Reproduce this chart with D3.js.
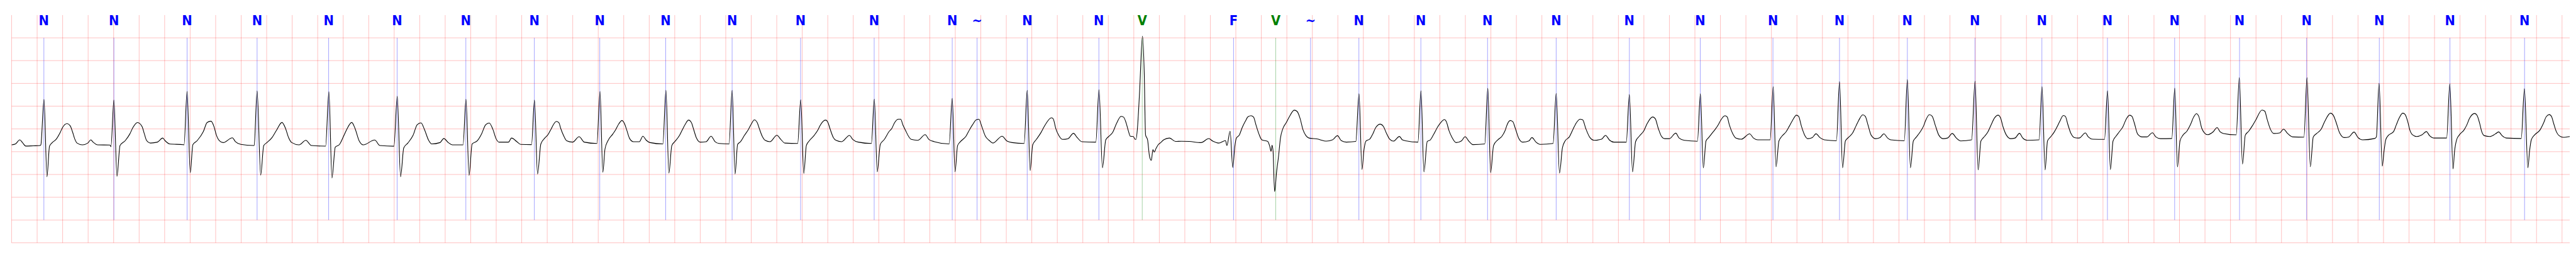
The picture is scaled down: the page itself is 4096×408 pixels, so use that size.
<!DOCTYPE html>
<html>
<head>
<meta charset="utf-8">
<script src="https://cdn.jsdelivr.net/npm/d3@7"></script>
<style>
  html, body { margin: 0; padding: 0; background: #ffffff; overflow: hidden; }
  svg { display: block; }
</style>
</head>
<body>
<script>
// ---------------- DATA ----------------
// time axis in seconds, amplitude in mV (0.2 s / 0.5 mV per grid box)
const timeDomain = [0, 20.06];
const ampDomain = [-2.5, 2.5];
const gridTimes = d3.range(0, 20.0001, 0.2);
const gridAmps = [2.0, 1.5, 1.0, 0.5, 0.0, -0.5, -1.0, -1.5, -2.0, -2.5];

// beat annotations
const annTimes = [0.253, 0.802, 1.376, 1.925, 2.486, 3.023, 3.562, 4.099, 4.612, 5.129,
  5.650, 6.187, 6.764, 7.376, 7.571, 7.964, 8.526, 8.866, 9.582, 9.913,
  10.186, 10.565, 11.051, 11.574, 12.112, 12.686, 13.242, 13.812, 14.334, 14.866,
  15.396, 15.921, 16.435, 16.962, 17.471, 17.997, 18.567, 19.121, 19.706];
const annSymbols = ["N","N","N","N","N","N","N","N","N","N",
  "N","N","N","N","~","N","N","V","F","V",
  "~","N","N","N","N","N","N","N","N","N",
  "N","N","N","N","N","N","N","N","N"];

// ECG trace: [time s, amplitude mV] points
const ecgTrace = [
  [0.000,-0.35],[0.030,-0.33],[0.064,-0.24],[0.085,-0.30],[0.110,-0.376],[0.170,-0.37],[0.222,-0.365],
  [0.229,-0.35],[0.254,0.647],[0.277,-1.05],[0.297,-0.38],[0.315,-0.31],[0.351,-0.22],[0.381,-0.076],[0.399,0.03],[0.435,0.116],[0.459,0.07],[0.477,-0.06],[0.495,-0.22],[0.513,-0.31],[0.555,-0.35],[0.597,-0.31],[0.621,-0.24],[0.639,-0.29],[0.675,-0.35],[0.771,-0.354],
  [0.779,-0.39],[0.802,0.636],[0.826,-1.04],[0.850,-0.365],[0.891,-0.257],[0.927,-0.11],[0.951,0.03],[0.987,0.141],[1.023,0.05],[1.041,-0.11],[1.059,-0.257],[1.089,-0.31],[1.143,-0.29],[1.185,-0.2],[1.203,-0.257],[1.239,-0.33],[1.347,-0.347],
  [1.352,-0.35],[1.376,0.824],[1.401,-0.96],[1.421,-0.347],[1.455,-0.257],[1.503,-0.06],[1.533,0.14],[1.563,0.17],[1.587,0.05],[1.605,-0.13],[1.629,-0.257],[1.659,-0.30],[1.731,-0.195],[1.755,-0.28],[1.798,-0.34],[1.896,-0.365],
  [1.902,-0.36],[1.925,0.835],[1.953,-1.014],[1.977,-0.365],[2.002,-0.30],[2.042,-0.19],[2.075,-0.04],[2.120,0.143],[2.148,0.01],[2.172,-0.19],[2.197,-0.30],[2.254,-0.35],[2.307,-0.25],[2.351,-0.365],[2.462,-0.377],
  [2.488,0.818],[2.512,-1.077],[2.538,-0.40],[2.571,-0.34],[2.603,-0.16],[2.628,-0.01],[2.667,0.143],[2.693,0.01],[2.725,-0.26],[2.758,-0.35],[2.847,-0.244],[2.888,-0.365],[2.998,-0.38],
  [3.024,0.717],[3.050,-1.05],[3.075,-0.415],[3.107,-0.31],[3.148,-0.14],[3.180,0.09],[3.210,0.133],[3.237,-0.01],[3.270,-0.25],[3.294,-0.33],[3.359,-0.30],[3.389,-0.21],[3.424,-0.30],[3.457,-0.35],[3.540,-0.35],
  [3.563,0.652],[3.587,-1.02],[3.611,-0.33],[3.652,-0.26],[3.685,-0.11],[3.717,0.09],[3.745,0.131],[3.774,-0.01],[3.798,-0.21],[3.823,-0.29],[3.896,-0.29],[3.920,-0.20],[3.961,-0.277],[3.993,-0.34],[4.077,-0.345],
  [4.100,0.634],[4.124,-0.99],[4.150,-0.33],[4.178,-0.21],[4.206,-0.126],[4.229,-0.01],[4.252,0.11],[4.272,0.164],[4.291,0.138],[4.306,0.01],[4.329,-0.15],[4.353,-0.26],[4.399,-0.29],[4.450,-0.17],[4.491,-0.29],[4.590,-0.32],
  [4.614,0.825],[4.636,-0.95],[4.653,-0.44],[4.676,-0.26],[4.715,-0.11],[4.738,-0.01],[4.761,0.11],[4.786,0.184],[4.807,0.11],[4.822,-0.01],[4.846,-0.21],[4.876,-0.28],[4.923,-0.28],[4.950,-0.16],[4.977,-0.25],[5.007,-0.30],[5.107,-0.33],
  [5.131,0.85],[5.154,-0.97],[5.177,-0.365],[5.200,-0.28],[5.238,-0.14],[5.261,-0.01],[5.284,0.11],[5.308,0.194],[5.331,0.138],[5.346,0.01],[5.369,-0.19],[5.400,-0.29],[5.446,-0.28],[5.485,-0.16],[5.516,-0.28],[5.547,-0.32],[5.626,-0.33],
  [5.650,0.85],[5.673,-0.99],[5.693,-0.34],[5.716,-0.28],[5.747,-0.14],[5.778,-0.01],[5.801,0.11],[5.824,0.2],[5.847,0.138],[5.863,0.01],[5.886,-0.16],[5.909,-0.25],[5.947,-0.28],[6.001,-0.14],[6.032,-0.23],[6.063,-0.31],[6.164,-0.32],
  [6.188,0.64],[6.212,-0.976],[6.232,-0.365],[6.255,-0.26],[6.294,-0.14],[6.325,-0.01],[6.340,0.075],[6.383,0.194],[6.402,0.138],[6.417,0.01],[6.444,-0.19],[6.465,-0.25],[6.509,-0.28],[6.570,-0.143],[6.596,-0.23],[6.640,-0.29],[6.742,-0.32],
  [6.765,0.654],[6.788,-0.94],[6.812,-0.34],[6.844,-0.23],[6.880,-0.06],[6.902,0.01],[6.924,0.138],[6.953,0.214],[6.972,0.214],[6.989,0.09],[7.011,-0.04],[7.033,-0.16],[7.055,-0.23],[7.105,-0.25],[7.164,-0.126],[7.193,-0.23],[7.236,-0.28],[7.352,-0.33],
  [7.376,0.672],[7.398,-0.94],[7.418,-0.365],[7.440,-0.28],[7.484,-0.16],[7.513,-0.01],[7.535,0.09],[7.564,0.2],[7.585,0.214],[7.607,0.06],[7.636,-0.16],[7.665,-0.25],[7.695,-0.31],[7.767,-0.16],[7.804,-0.264],[7.847,-0.30],[7.940,-0.32],
  [7.964,0.848],[7.987,-0.913],[8.007,-0.35],[8.036,-0.23],[8.073,-0.075],[8.095,0.04],[8.116,0.138],[8.153,0.244],[8.167,0.226],[8.189,0.0],[8.211,-0.14],[8.240,-0.23],[8.284,-0.214],[8.327,-0.096],[8.356,-0.19],[8.393,-0.28],[8.502,-0.29],
  [8.527,0.863],[8.554,-0.855],[8.580,-0.24],[8.603,-0.166],[8.634,-0.076],[8.665,0.123],[8.700,0.275],[8.719,0.26],[8.739,0.14],[8.757,-0.04],[8.772,-0.16],[8.796,-0.166],[8.811,-0.23],
  [8.817,-0.23],[8.828,0.0],[8.845,0.8],[8.868,2.04],[8.882,1.2],[8.892,-0.13],[8.908,-0.24],[8.923,-0.6],[8.937,-0.69],[8.950,-0.455],[8.960,-0.51],[8.973,-0.437],[8.991,-0.347],[9.011,-0.30],[9.034,-0.24],[9.080,-0.2],[9.127,-0.275],[9.173,-0.27],[9.234,-0.275],[9.327,-0.30],[9.388,-0.213],[9.419,-0.268],[9.465,-0.31],[9.519,-0.257],[9.530,-0.365],
  [9.555,-0.05],[9.576,-0.846],[9.592,-0.383],[9.604,-0.2],[9.627,-0.137],[9.650,0.03],[9.673,0.16],[9.696,0.268],[9.719,0.29],[9.739,0.26],[9.758,0.087],[9.781,-0.11],[9.804,-0.24],[9.850,-0.275],[9.866,-0.383],[9.876,-0.49],[9.884,-0.358],[9.892,-0.49],
  [9.904,-1.377],[9.919,-0.96],[9.935,-0.6],[9.950,-0.2],[9.970,0.014],[9.996,0.14],[10.020,0.268],[10.058,0.412],[10.081,0.383],[10.104,0.23],[10.127,-0.02],[10.150,-0.148],[10.173,-0.2],[10.235,-0.22],[10.312,-0.268],[10.358,-0.24],[10.397,-0.148],[10.427,-0.257],[10.466,-0.29],[10.541,-0.275],
  [10.566,0.774],[10.589,-0.89],[10.605,-0.455],[10.620,-0.268],[10.651,-0.22],[10.674,-0.11],[10.697,0.03],[10.732,0.105],[10.758,0.05],[10.781,-0.094],[10.805,-0.22],[10.836,-0.268],[10.883,-0.165],[10.906,-0.24],[10.938,-0.264],[11.028,-0.29],
  [11.052,0.838],[11.075,-0.943],[11.101,-0.277],[11.125,-0.24],[11.150,-0.126],[11.182,0.04],[11.207,0.138],[11.236,0.206],[11.250,0.164],[11.272,-0.04],[11.296,-0.19],[11.328,-0.30],[11.369,-0.264],[11.398,-0.17],[11.426,-0.264],[11.459,-0.345],[11.552,-0.33],
  [11.576,0.893],[11.598,-0.96],[11.621,-0.365],[11.654,-0.24],[11.686,-0.164],[11.711,-0.04],[11.727,0.09],[11.751,0.184],[11.771,0.164],[11.792,0.01],[11.816,-0.19],[11.849,-0.29],[11.898,-0.264],[11.922,-0.19],[11.954,-0.29],[11.987,-0.34],[12.088,-0.32],
  [12.112,0.78],[12.138,-0.97],[12.161,-0.415],[12.182,-0.264],[12.215,-0.176],[12.247,0.01],[12.271,0.138],[12.300,0.214],[12.320,0.2],[12.344,0.01],[12.377,-0.19],[12.410,-0.25],[12.467,-0.226],[12.499,-0.143],[12.532,-0.25],[12.564,-0.29],[12.662,-0.29],
  [12.686,0.755],[12.711,-0.943],[12.735,-0.277],[12.767,-0.15],[12.800,-0.04],[12.824,0.11],[12.869,0.264],[12.889,0.226],[12.913,0.01],[12.938,-0.164],[12.963,-0.214],[13.000,-0.214],[13.050,-0.093],[13.076,-0.2],[13.117,-0.25],[13.220,-0.27],
  [13.243,0.772],[13.266,-0.858],[13.287,-0.264],[13.308,-0.19],[13.333,-0.1],[13.359,-0.01],[13.385,0.1],[13.402,0.19],[13.436,0.29],[13.453,0.264],[13.470,0.09],[13.496,-0.1],[13.522,-0.2],[13.564,-0.226],[13.629,-0.108],[13.659,-0.2],[13.693,-0.24],[13.790,-0.24],
  [13.814,0.93],[13.836,-0.83],[13.859,-0.264],[13.881,-0.164],[13.915,-0.063],[13.941,0.063],[13.966,0.19],[13.996,0.302],[14.013,0.277],[14.035,0.063],[14.061,-0.138],[14.086,-0.214],[14.120,-0.19],[14.150,-0.106],[14.180,-0.19],[14.215,-0.24],[14.310,-0.26],
  [14.334,1.04],[14.358,-0.855],[14.380,-0.264],[14.403,-0.19],[14.437,-0.088],[14.463,0.063],[14.485,0.19],[14.516,0.31],[14.536,0.277],[14.557,0.09],[14.582,-0.138],[14.617,-0.214],[14.651,-0.19],[14.682,-0.108],[14.711,-0.2],[14.736,-0.24],[14.842,-0.26],
  [14.866,1.084],[14.890,-0.855],[14.913,-0.264],[14.933,-0.19],[14.967,-0.063],[14.993,0.063],[15.010,0.19],[15.039,0.314],[15.061,0.277],[15.087,0.063],[15.113,-0.138],[15.147,-0.214],[15.181,-0.2],[15.218,-0.1],[15.250,-0.2],[15.284,-0.264],[15.370,-0.24],
  [15.397,1.05],[15.421,-0.9],[15.443,-0.264],[15.463,-0.19],[15.498,-0.063],[15.523,0.09],[15.549,0.24],[15.578,0.302],[15.597,0.24],[15.617,0.04],[15.643,-0.138],[15.677,-0.214],[15.711,-0.2],[15.745,-0.096],[15.771,-0.2],[15.805,-0.25],[15.899,-0.24],
  [15.922,0.93],[15.946,-0.9],[15.965,-0.264],[15.989,-0.176],[16.016,-0.075],[16.034,0.013],[16.061,0.164],[16.088,0.294],[16.105,0.277],[16.123,0.113],[16.147,-0.088],[16.177,-0.19],[16.213,-0.2],[16.262,-0.088],[16.285,-0.176],[16.321,-0.226],[16.412,-0.23],
  [16.436,0.838],[16.458,-0.893],[16.479,-0.264],[16.501,-0.164],[16.528,-0.063],[16.555,0.04],[16.582,0.214],[16.609,0.302],[16.627,0.277],[16.645,0.138],[16.672,-0.113],[16.707,-0.176],[16.743,-0.176],[16.788,-0.083],[16.815,-0.176],[16.851,-0.214],[16.940,-0.21],
  [16.963,0.898],[16.984,-0.835],[17.004,-0.264],[17.027,-0.138],[17.058,-0.05],[17.085,0.088],[17.112,0.264],[17.133,0.335],[17.151,0.277],[17.175,0.013],[17.196,-0.088],[17.220,-0.126],[17.264,-0.063],[17.295,0.03],[17.318,-0.063],[17.345,-0.1],[17.445,-0.13],
  [17.469,1.127],[17.494,-0.772],[17.516,-0.138],[17.543,-0.05],[17.570,0.063],[17.597,0.19],[17.647,0.415],[17.669,0.39],[17.687,0.214],[17.714,-0.013],[17.740,-0.1],[17.786,-0.088],[17.816,-0.005],[17.848,-0.1],[17.888,-0.176],[17.976,-0.18],
  [18.000,1.125],[18.026,-0.83],[18.049,-0.176],[18.076,-0.1],[18.112,0.0],[18.139,0.164],[18.184,0.347],[18.206,0.302],[18.229,0.138],[18.256,-0.088],[18.292,-0.19],[18.328,-0.176],[18.369,-0.068],[18.400,-0.19],[18.436,-0.24],[18.530,-0.21],[18.544,-0.176],
  [18.565,1.0],[18.590,-0.817],[18.604,-0.49],[18.617,-0.24],[18.636,-0.148],[18.679,-0.058],[18.700,0.087],[18.721,0.23],[18.751,0.347],[18.769,0.32],[18.790,0.16],[18.806,-0.02],[18.828,-0.13],[18.860,-0.166],[18.902,-0.13],[18.936,-0.058],[18.961,-0.148],[18.998,-0.2],[19.095,-0.2],
  [19.120,0.99],[19.145,-0.88],[19.157,-0.49],[19.173,-0.24],[19.195,-0.13],[19.232,-0.02],[19.253,0.087],[19.274,0.23],[19.315,0.34],[19.333,0.3],[19.354,0.123],[19.370,-0.058],[19.391,-0.148],[19.434,-0.166],[19.477,-0.11],[19.503,-0.065],[19.530,-0.148],[19.562,-0.2],[19.680,-0.21],
  [19.705,0.882],[19.732,-0.853],[19.745,-0.49],[19.759,-0.24],[19.785,-0.13],[19.828,-0.02],[19.854,0.123],[19.876,0.268],[19.900,0.315],[19.918,0.268],[19.934,0.123],[19.955,-0.058],[19.977,-0.148],[20.009,-0.184],[20.060,-0.166]
];

// ---------------- DRAWING ----------------
const REF_W = 7522, REF_H = 750, S = 0.544;
const svg = d3.select("body").append("svg")
  .attr("width", 4096).attr("height", 408);
svg.append("rect").attr("width", 4096).attr("height", 408).attr("fill", "#ffffff");
const g = svg.append("g").attr("transform", `scale(${S})`);

const x = d3.scaleLinear().domain(timeDomain).range([34, 7511]);
const y = d3.scaleLinear().domain(ampDomain).range([708.5, 44]);

// grid
const grid = g.append("g");
grid.selectAll("line.v").data(gridTimes).join("line")
  .attr("x1", d => x(d)).attr("x2", d => x(d))
  .attr("y1", y(ampDomain[1])).attr("y2", y(ampDomain[0]))
  .attr("stroke", "#ff0000").attr("stroke-opacity", 0.27).attr("stroke-width", 1.7);
grid.selectAll("line.h").data(gridAmps).join("line")
  .attr("x1", x(timeDomain[0])).attr("x2", x(timeDomain[1]))
  .attr("y1", d => y(d)).attr("y2", d => y(d))
  .attr("stroke", "#ff0000").attr("stroke-opacity", 0.27).attr("stroke-width", 1.7);

// annotation lines
const symColor = s => s === "V" ? "#008000" : "#0000ff";
const ann = annTimes.map((t, i) => ({ t, s: annSymbols[i] }));
g.append("g").selectAll("line").data(ann).join("line")
  .attr("x1", d => x(d.t)).attr("x2", d => x(d.t))
  .attr("y1", y(2.0)).attr("y2", y(-2.0))
  .attr("stroke", d => symColor(d.s)).attr("stroke-opacity", 0.55).attr("stroke-width", 1.2);

// ECG trace
const line = d3.line().x(d => x(d[0])).y(d => y(d[1])).curve(d3.curveMonotoneX);
g.append("path").datum(ecgTrace)
  .attr("d", line).attr("fill", "none")
  .attr("stroke", "#000000").attr("stroke-width", 2.0).attr("stroke-linejoin", "round");

// annotation labels
g.append("g").selectAll("text").data(ann).join("text")
  .attr("x", d => x(d.t)).attr("y", 73.5)
  .attr("text-anchor", "middle")
  .attr("font-family", "'Liberation Sans Narrow', 'DejaVu Sans Condensed', 'Liberation Sans', sans-serif")
  .attr("font-weight", "bold")
  .attr("font-size", 40)
  .attr("fill", d => symColor(d.s))
  .text(d => d.s);
</script>
</body>
</html>
